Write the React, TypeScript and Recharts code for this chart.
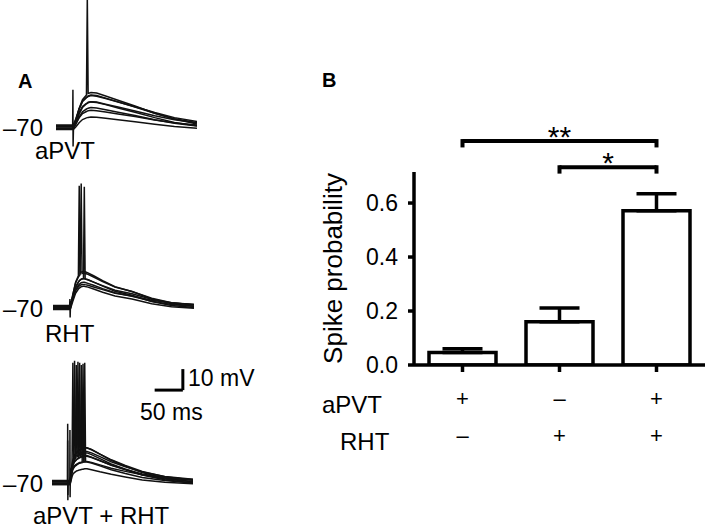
import React from "react";
import {
  LineChart,
  Line,
  BarChart,
  Bar,
  ErrorBar,
  XAxis,
  YAxis,
  ReferenceLine,
} from "recharts";

const FONT = '"Liberation Sans", Arial, Helvetica, sans-serif';

// ---- Panel A: membrane potential traces (ms, mV) ----
const aPVTTime = [0, 29.5, 30, 30.3, 31, 35, 41, 47, 54, 55.5, 57, 62, 72, 88, 110, 140, 175, 210, 250];
const aPVTTraces = [
  [-70.3, -70.3, -52, -79, -70.0, -66.9, -61.0, -56.7, -54.5, -8, -53.8, -53.3, -53.6, -55.0, -57.0, -59.8, -63.2, -66.0, -68.3],
  [-69.5, -69.5, -69.5, -69.5, -69.2, -66.5, -61.3, -57.5, -55.6, -55.3, -55.0, -54.5, -54.8, -56.0, -57.8, -60.2, -63.2, -65.8, -67.7],
  [-70.8, -70.8, -70.8, -70.8, -70.5, -68.2, -63.7, -60.4, -58.7, -58.5, -58.2, -57.8, -58.1, -59.1, -60.7, -62.7, -65.3, -67.6, -69.2],
  [-69.2, -69.2, -69.2, -69.2, -69.0, -66.9, -62.9, -60.0, -58.5, -58.3, -58.0, -57.7, -57.9, -58.9, -60.2, -62.1, -64.4, -66.3, -67.8],
  [-70.5, -70.5, -70.5, -70.5, -70.3, -68.5, -65.0, -62.5, -61.2, -61.0, -60.8, -60.5, -60.7, -61.5, -62.7, -64.3, -66.3, -68.0, -69.3],
  [-69.8, -69.8, -69.8, -69.8, -69.6, -68.2, -65.4, -63.4, -62.4, -62.2, -62.0, -61.8, -62.0, -62.6, -63.6, -64.8, -66.4, -67.8, -68.8],
  [-71.0, -71.0, -71.0, -71.0, -70.9, -69.8, -67.7, -66.2, -65.4, -65.3, -65.2, -65.0, -65.1, -65.6, -66.3, -67.3, -68.5, -69.5, -70.3],
  [-68.8, -68.8, -68.8, -68.8, -68.5, -66.0, -61.1, -57.6, -55.8, -55.5, -55.2, -54.8, -55.1, -56.2, -57.9, -60.1, -62.9, -65.3, -67.1],
];

const rhtTime = [0, 29.5, 30, 30.4, 31, 35, 40, 45, 46.5, 48, 50, 51.5, 54, 55.5, 57, 62, 72, 88, 110, 140, 175, 210, 250];
const rhtTraces = [
  [-70.3, -70.3, -70.3, -70.3, -69.8, -64.2, -58.0, -54.9, -12, -53.7, -53.1, -53.0, -52.8, -52.8, -53.0, -53.5, -54.9, -57.2, -60.1, -62.4, -65.9, -68.2, -69.4],
  [-69.6, -69.6, -69.6, -69.6, -69.1, -64.0, -58.4, -55.5, -54.9, -54.4, -11, -53.8, -53.6, -53.6, -53.8, -54.2, -55.5, -57.6, -60.3, -62.4, -65.6, -67.7, -68.8],
  [-70.7, -70.7, -70.7, -70.7, -70.3, -65.6, -60.6, -57.9, -57.4, -56.9, -56.5, -56.3, -56.2, -12.5, -56.4, -56.8, -57.9, -59.8, -62.3, -64.2, -67.1, -69.0, -70.0],
  [-69.3, -69.3, -66, -74.8, -68.9, -64.8, -60.2, -57.9, -57.3, -57.0, -56.6, -56.4, -56.3, -56.3, -56.4, -56.8, -57.9, -59.6, -61.8, -63.5, -66.1, -67.7, -68.7],
  [-70.0, -70.0, -70.0, -70.0, -69.6, -65.8, -61.6, -59.4, -59.0, -58.6, -58.2, -58.1, -58.0, -58.0, -58.1, -58.5, -59.4, -61.0, -63.0, -64.6, -67.0, -68.6, -69.4],
  [-70.9, -70.9, -70.9, -70.9, -70.6, -67.1, -63.2, -61.2, -60.8, -60.5, -60.1, -60.0, -59.9, -59.9, -60.0, -60.3, -61.2, -62.7, -64.5, -66.0, -68.2, -69.6, -70.4],
  [-69.0, -69.0, -69.0, -69.0, -68.7, -65.5, -62.0, -60.2, -59.8, -59.5, -59.2, -59.1, -59.0, -59.0, -59.1, -59.4, -60.2, -61.5, -63.2, -64.5, -66.5, -67.8, -68.5],
];

const bothTime = [0, 27.6, 27.8, 28.1, 28.4, 31.6, 31.8, 32.1, 32.4, 34, 35.5, 37, 38.5, 40, 41.5, 43, 44.5, 46, 47.5, 49, 50.5, 52, 53.5, 55, 56.5, 58, 59.5, 62, 70, 85, 105, 130, 160, 200, 250];
const bothTraces = [
  [-70.4, -70.4, -42, -78.5, -70.4, -70.4, -70.4, -70.1, -69.6, -65.3, -61.9, -13, -58.2, -57.1, -56.5, -55.9, -55.4, -55.1, -54.8, -54.4, -54.2, -54.1, -53.9, -53.7, -53.6, -53.4, -53.4, -53.4, -54.2, -56.5, -59.4, -62.2, -65.3, -67.9, -69.6],
  [-69.6, -69.6, -69.6, -69.6, -69.6, -69.6, -45, -77, -68.8, -64.8, -61.6, -59.2, -58.1, -12, -56.5, -56.0, -55.5, -55.2, -54.9, -54.6, -54.4, -54.2, -54.1, -53.9, -53.8, -53.6, -53.6, -53.6, -54.4, -56.5, -59.2, -61.9, -64.8, -67.2, -68.8],
  [-70.9, -70.9, -70.9, -70.9, -70.9, -70.9, -70.9, -70.6, -70.2, -66.4, -63.4, -61.2, -60.1, -59.2, -58.6, -14, -57.7, -57.4, -57.1, -56.8, -56.7, -56.5, -56.4, -56.2, -56.1, -55.9, -55.9, -55.9, -56.7, -58.6, -61.2, -63.7, -66.4, -68.7, -70.2],
  [-69.2, -69.2, -69.2, -69.2, -69.2, -69.2, -69.2, -68.9, -68.5, -65.0, -62.2, -60.1, -59.1, -58.3, -57.7, -57.3, -56.9, -12.5, -56.3, -56.0, -55.9, -55.8, -55.6, -55.5, -55.3, -55.2, -55.2, -55.2, -55.9, -57.7, -60.1, -62.5, -65.0, -67.1, -68.5],
  [-70.2, -70.2, -70.2, -70.2, -70.2, -70.2, -70.2, -69.9, -69.6, -66.3, -63.7, -61.8, -60.8, -60.1, -59.5, -59.2, -58.8, -58.5, -58.2, -13, -57.9, -57.7, -57.6, -57.5, -57.3, -57.2, -57.2, -57.2, -57.9, -59.5, -61.8, -64.0, -66.3, -68.3, -69.6],
  [-69.5, -69.5, -69.5, -69.5, -69.5, -69.5, -69.5, -69.3, -68.9, -65.9, -63.5, -61.7, -60.9, -60.1, -59.7, -59.3, -58.9, -58.7, -58.5, -58.2, -58.1, -14, -57.9, -57.7, -57.6, -57.5, -57.5, -57.5, -58.1, -59.7, -61.7, -63.7, -65.9, -67.7, -68.9],
  [-70.7, -70.7, -70.7, -70.7, -70.7, -70.7, -70.7, -70.5, -70.2, -67.6, -65.5, -63.9, -63.1, -62.5, -62.1, -61.8, -61.5, -61.3, -61.0, -60.8, -60.7, -60.6, -60.5, -13.5, -60.3, -60.2, -60.2, -60.2, -60.7, -62.1, -63.9, -65.7, -67.6, -69.1, -70.2],
  [-69.0, -69.0, -69.0, -69.0, -69.0, -69.0, -69.0, -68.8, -68.6, -66.3, -64.5, -63.2, -62.5, -62.0, -61.6, -61.4, -61.1, -60.9, -60.7, -60.5, -60.5, -60.4, -60.3, -60.2, -60.1, -13, -60.0, -60.0, -60.5, -61.6, -63.2, -64.7, -66.3, -67.7, -68.6],
  [-71.0, -71.0, -50, -76, -71.0, -71.0, -71.0, -70.9, -70.6, -68.8, -67.3, -66.1, -65.6, -65.2, -64.9, -64.6, -64.4, -64.3, -64.1, -64.0, -63.9, -63.8, -63.7, -63.7, -63.6, -63.5, -63.5, -63.5, -63.9, -64.9, -66.1, -67.4, -68.8, -69.9, -70.6],
];

// scale bar (50 ms / 10 mV), drawn in the last panel's data units
const scaleBarMs = 50;
const scaleBarMv = 10;
const scaleBarStart = 182;
const scaleBarBase = -26;

// ---- Panel B: spike probability ----
const conditions = ["aPVT", "RHT", "aPVT + RHT"];
const spikeProb = [0.046, 0.16, 0.571];
const spikeSem = [0.014, 0.051, 0.063];
const aPVTSigns = ["+", "\u2013", "+"];
const rhtSigns = ["\u2013", "+", "+"];
const probTicks = [0, 0.2, 0.4, 0.6];
const bracketFrom = ["aPVT", "RHT"];
const bracketTo = ["aPVT + RHT", "aPVT + RHT"];
const bracketLevel = [0.83, 0.733];
const bracketStars = ["**", "*"];

const barData = conditions.map((c, i) => ({ c, p: spikeProb[i], err: [0, spikeSem[i]] }));

type PanelProps = {
  time: number[];
  traces: number[][];
  left: number;
  top: number;
  children?: React.ReactNode;
};

function TracePanel({ time, traces, left, top, children }: PanelProps) {
  const data = time.map((t, i) => {
    const row: Record<string, number> = { t };
    traces.forEach((tr, j) => {
      row["v" + j] = tr[i];
    });
    return row;
  });
  return (
    <div style={{ position: "absolute", left, top }}>
      <LineChart width={141} height={199.5} data={data} margin={{ top: 0, right: 0, bottom: 0, left: 0 }}>
        <XAxis type="number" dataKey="t" domain={[0, 250]} hide allowDataOverflow />
        <YAxis type="number" domain={[-100, -5]} hide allowDataOverflow />
        {traces.map((_, j) => (
          <Line
            key={j}
            dataKey={"v" + j}
            type="linear"
            stroke="#111"
            strokeWidth={1.5}
            dot={false}
            isAnimationActive={false}
          />
        ))}
        {children}
      </LineChart>
    </div>
  );
}

function SignTick(props: any) {
  const { x, y, payload } = props;
  const i = conditions.indexOf(payload.value);
  return (
    <g fontFamily={FONT} fontSize={22} fill="#000">
      <text x={x} y={y + 24} textAnchor="middle" dominantBaseline="central">
        {aPVTSigns[i]}
      </text>
      <text x={x} y={y + 61} textAnchor="middle" dominantBaseline="central">
        {rhtSigns[i]}
      </text>
    </g>
  );
}

const axisStroke = { stroke: "#000", strokeWidth: 3.5 };

export default function App() {
  return (
    <div
      style={{
        position: "absolute",
        left: 0,
        top: 0,
        width: 709,
        height: 532,
        background: "#fff",
        overflow: "hidden",
        fontFamily: FONT,
      }}
    >
      <TracePanel time={aPVTTime} traces={aPVTTraces} left={56} top={-9.5} />
      <TracePanel time={rhtTime} traces={rhtTraces} left={53} top={170.5} />
      <TracePanel time={bothTime} traces={bothTraces} left={52} top={345.5}>
        <ReferenceLine
          segment={[
            { x: scaleBarStart, y: scaleBarBase },
            { x: scaleBarStart + scaleBarMs, y: scaleBarBase },
          ]}
          stroke="#000"
          strokeWidth={3}
          ifOverflow="visible"
        />
        <ReferenceLine
          segment={[
            { x: scaleBarStart + scaleBarMs, y: scaleBarBase },
            { x: scaleBarStart + scaleBarMs, y: scaleBarBase + scaleBarMv },
          ]}
          stroke="#000"
          strokeWidth={3}
          ifOverflow="visible"
        />
      </TracePanel>

      <div style={{ position: "absolute", left: 300, top: 0 }}>
        <BarChart
          width={409}
          height={532}
          data={barData}
          margin={{ top: 172, right: 4, bottom: 87, left: 0 }}
          barSize={67}
        >
          <XAxis
            dataKey="c"
            height={80}
            interval={0}
            axisLine={axisStroke}
            tickLine={axisStroke}
            tickSize={7}
            tick={<SignTick />}
          />
          <YAxis
            type="number"
            domain={[0, 0.715]}
            ticks={probTicks}
            allowDataOverflow
            width={114}
            axisLine={axisStroke}
            tickLine={axisStroke}
            tickSize={6}
            tickMargin={10}
            tickFormatter={(v: number) => v.toFixed(1)}
            tick={{ fill: "#000", fontSize: 23, fontFamily: FONT }}
            label={{
              value: "Spike probability",
              angle: -90,
              position: "insideLeft",
              offset: 33,
              fontSize: 26,
              fill: "#000",
              fontFamily: FONT,
              style: { textAnchor: "middle" },
            }}
          />
          <Bar dataKey="p" fill="#fff" stroke="#000" strokeWidth={3.5} isAnimationActive={false}>
            <ErrorBar dataKey="err" direction="y" width={20} stroke="#000" strokeWidth={3.5} />
          </Bar>
          {bracketFrom.map((from, i) => (
            <ReferenceLine
              key={"h" + i}
              segment={[
                { x: from, y: bracketLevel[i] },
                { x: bracketTo[i], y: bracketLevel[i] },
              ]}
              stroke="#000"
              strokeWidth={4}
              ifOverflow="visible"
              label={{
                value: bracketStars[i],
                position: "top",
                offset: -6,
                fontSize: 30,
                fill: "#000",
                fontFamily: FONT,
              }}
            />
          ))}
          {bracketFrom.map((from, i) => (
            <ReferenceLine
              key={"l" + i}
              segment={[
                { x: from, y: bracketLevel[i] + 0.007 },
                { x: from, y: bracketLevel[i] - 0.024 },
              ]}
              stroke="#000"
              strokeWidth={4}
              ifOverflow="visible"
            />
          ))}
          {bracketTo.map((to, i) => (
            <ReferenceLine
              key={"r" + i}
              segment={[
                { x: to, y: bracketLevel[i] + 0.007 },
                { x: to, y: bracketLevel[i] - 0.024 },
              ]}
              stroke="#000"
              strokeWidth={4}
              ifOverflow="visible"
            />
          ))}
        </BarChart>
      </div>

      <svg
        width={709}
        height={532}
        style={{ position: "absolute", left: 0, top: 0, pointerEvents: "none" }}
        fontFamily={FONT}
        fill="#000"
      >
        <text x={18} y={88} fontSize={20} fontWeight="bold">A</text>
        <text x={322} y={87} fontSize={20} fontWeight="bold">B</text>

        <text x={43} y={127} fontSize={24} textAnchor="end" dominantBaseline="central">{"\u201370"}</text>
        <text x={43} y={308} fontSize={24} textAnchor="end" dominantBaseline="central">{"\u201370"}</text>
        <text x={43} y={483} fontSize={24} textAnchor="end" dominantBaseline="central">{"\u201370"}</text>

        <text x={35} y={150} fontSize={24} dominantBaseline="central">aPVT</text>
        <text x={45} y={333} fontSize={24} dominantBaseline="central">RHT</text>
        <text x={33} y={515} fontSize={24} dominantBaseline="central">aPVT + RHT</text>

        <text x={188} y={378} fontSize={23} dominantBaseline="central">10 mV</text>
        <text x={140} y={412} fontSize={23} dominantBaseline="central">50 ms</text>

        <text x={322} y={413} fontSize={24}>aPVT</text>
        <text x={340} y={450} fontSize={24}>RHT</text>
      </svg>
    </div>
  );
}
